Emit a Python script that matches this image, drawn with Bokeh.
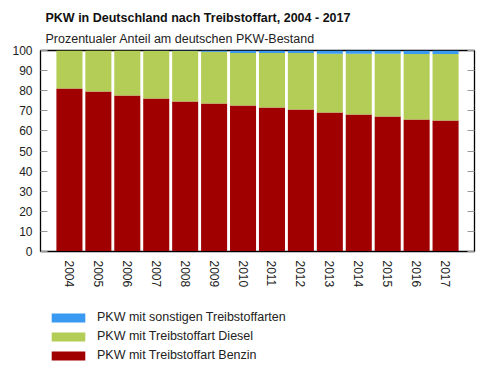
import math
from bokeh.plotting import figure
from bokeh.layouts import column
from bokeh.models import Range1d, FixedTicker, LinearAxis, Title, Legend, LegendItem, ColumnDataSource
from bokeh.embed import file_html
from bokeh.resources import INLINE

years = [2004, 2005, 2006, 2007, 2008, 2009, 2010, 2011, 2012, 2013, 2014, 2015, 2016, 2017]
benzin = [81.1, 79.6, 77.6, 76.1, 74.6, 73.6, 72.6, 71.6, 70.6, 69.1, 68.2, 67.2, 65.7, 65.2]
sonstige = [0.0, 0.0, 0.0, 0.1, 0.2, 0.6, 1.2, 1.2, 1.3, 1.6, 1.6, 1.6, 1.7, 1.7]
diesel = [round(100 - b - s, 1) for b, s in zip(benzin, sonstige)]
year_labels = [str(y) for y in years]

series = ["benzin", "diesel", "sonstige"]
colors = ["#a00000", "#b3cd57", "#3a9af2"]
names = ["PKW mit Treibstoffart Benzin", "PKW mit Treibstoffart Diesel", "PKW mit sonstigen Treibstoffarten"]
title_text = "PKW in Deutschland nach Treibstoffart, 2004 - 2017"
subtitle_text = "Prozentualer Anteil am deutschen PKW-Bestand"

FONT = "Liberation Sans"

src = ColumnDataSource(dict(year=years, benzin=benzin, diesel=diesel, sonstige=sonstige))

p = figure(width=500, height=290, output_backend="svg", toolbar_location=None,
           x_range=Range1d(2003, 2018), y_range=Range1d(0, 100),
           min_border_left=40, min_border_right=26, min_border_top=50, min_border_bottom=39)
p.title.visible = False

rs = p.vbar_stack(series, x="year", width=0.9, color=colors, line_width=0, source=src)

p.grid.visible = False
p.outline_line_color = "black"
p.outline_line_width = 1.3

# x axis
xa = p.xaxis[0]
xa.ticker = FixedTicker(ticks=years)
xa.major_label_overrides = {y: l for y, l in zip(years, year_labels)}
xa.major_label_orientation = -math.pi / 2
xa.major_tick_line_color = None
xa.major_tick_in = 0
xa.major_tick_out = 0
xa.minor_tick_line_color = None
xa.axis_line_color = "black"
xa.major_label_text_font = FONT
xa.major_label_text_font_size = "12px"
xa.major_label_text_color = "#222222"
xa.major_label_standoff = 9

# y axis
ya = p.yaxis[0]
ya.ticker = FixedTicker(ticks=list(range(0, 101, 10)))
ya.major_tick_in = 7
ya.major_tick_out = 0
ya.major_tick_line_color = "#999999"
ya.minor_tick_line_color = None
ya.axis_line_color = "black"
ya.major_label_text_font = FONT
ya.major_label_text_font_size = "12px"
ya.major_label_text_color = "#222222"
ya.major_label_standoff = 8

ra = LinearAxis(ticker=FixedTicker(ticks=list(range(0, 101, 10))), major_tick_in=7, major_tick_out=0,
                major_tick_line_color="#999999", minor_tick_line_color=None,
                axis_line_color="black", major_label_text_color=None)
p.add_layout(ra, "right")

p.add_layout(Title(text=subtitle_text, align="left", offset=5, standoff=9,
                   text_font=FONT, text_font_size="12.5px", text_font_style="normal",
                   text_color="#222222"), "above")
p.add_layout(Title(text=title_text, align="left", offset=5, standoff=2,
                   text_font=FONT, text_font_size="12.5px", text_font_style="bold",
                   text_color="#111111"), "above")

# legend figure (same data, outside its visible range; only the legend shows)
lg = figure(width=500, height=85, output_backend="svg", toolbar_location=None,
            x_range=Range1d(2003, 2018), y_range=Range1d(200, 300),
            x_axis_location=None, y_axis_location=None,
            min_border_left=0, min_border_right=0, min_border_top=0, min_border_bottom=0)
lg.grid.visible = False
lg.outline_line_color = None
lg.title.visible = False
lrs = lg.vbar_stack(series, x="year", width=0.9, color=colors, line_width=0, line_color=None, source=src)
items = [LegendItem(label=n, renderers=[r]) for n, r in zip(names, lrs)][::-1]
legend = Legend(items=items, location=(7, 13), orientation="vertical",
                margin=0, padding=0, spacing=5, label_height=11, glyph_height=11, glyph_width=42,
                label_standoff=8, border_line_alpha=0, background_fill_alpha=0,
                label_text_font=FONT, label_text_font_size="12.5px", label_text_color="#222222")
lg.add_layout(legend, "center")

layout = column(p, lg, spacing=0)
open("out.html", "w").write(file_html(layout, INLINE))
